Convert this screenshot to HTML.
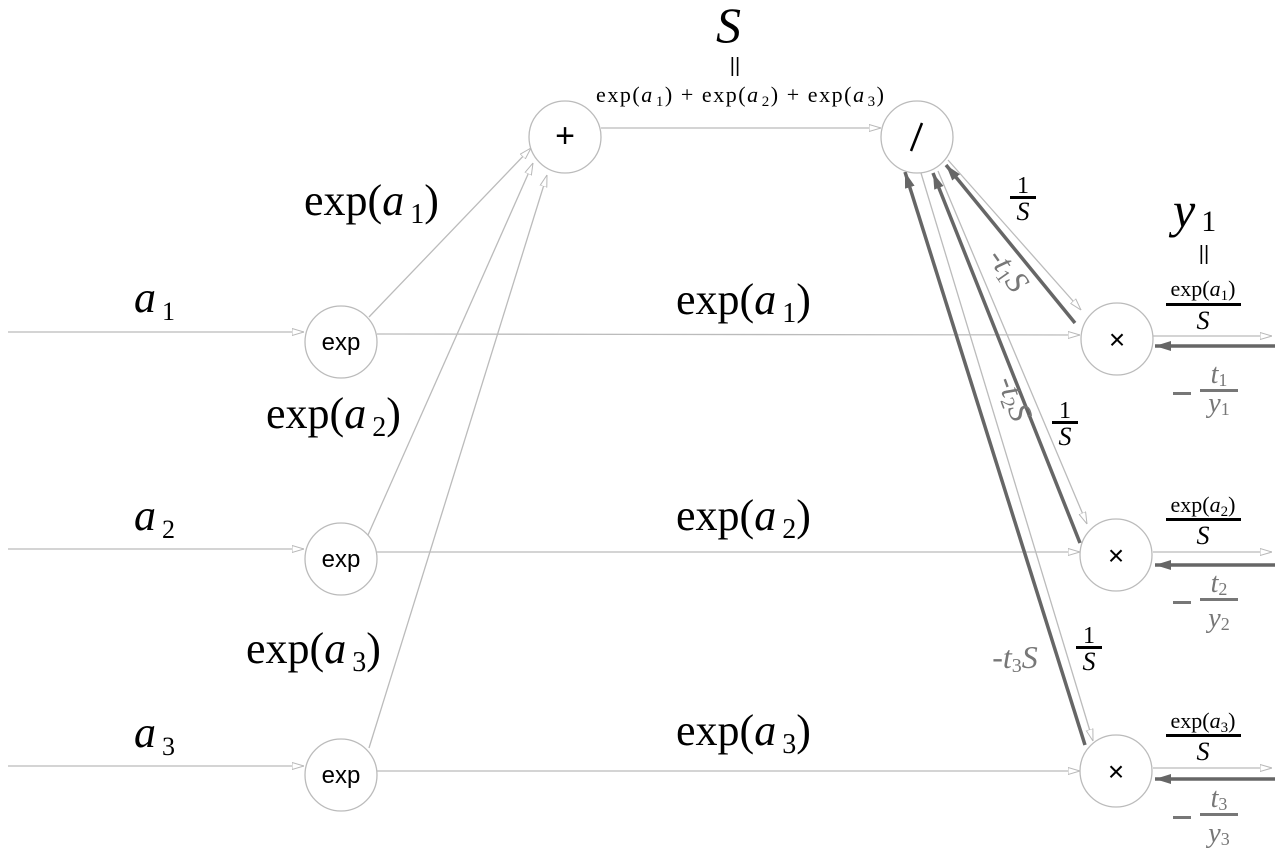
<!DOCTYPE html>
<html><head><meta charset="utf-8"><style>
html,body{margin:0;padding:0;background:#fff}
svg{display:block}
.m{font-family:"Liberation Serif",serif;}
.i{font-style:italic}
</style></head><body>
<svg width="1288" height="864" viewBox="0 0 1288 864" xmlns="http://www.w3.org/2000/svg">
<defs>
<marker id="la" viewBox="0 0 12 8" refX="12" refY="4" markerWidth="12" markerHeight="8" markerUnits="userSpaceOnUse" orient="auto">
<path d="M0,0.5 L12,4 L0,7.5 Z" fill="#fff" stroke="#b8b8b8" stroke-width="1"/></marker>
<marker id="da" viewBox="0 0 16 10" refX="16" refY="5" markerWidth="16" markerHeight="10" markerUnits="userSpaceOnUse" orient="auto">
<path d="M0,0 L16,5 L0,10 Z" fill="#666"/></marker>
</defs>
<g stroke="#bbb" stroke-width="1.3" fill="none">
<line x1="8" y1="332" x2="304" y2="332" marker-end="url(#la)"/>
<line x1="8" y1="549" x2="304" y2="549" marker-end="url(#la)"/>
<line x1="8" y1="766" x2="304" y2="766" marker-end="url(#la)"/>
<line x1="369" y1="317" x2="531" y2="148" marker-end="url(#la)"/>
<line x1="368" y1="535" x2="533" y2="163" marker-end="url(#la)"/>
<line x1="369" y1="748" x2="547" y2="175" marker-end="url(#la)"/>
<line x1="377" y1="334" x2="1080" y2="335" marker-end="url(#la)"/>
<line x1="377" y1="552" x2="1080" y2="552" marker-end="url(#la)"/>
<line x1="377" y1="771" x2="1080" y2="771" marker-end="url(#la)"/>
<line x1="601" y1="128" x2="881" y2="128" marker-end="url(#la)"/>
<line x1="948" y1="160" x2="1081" y2="310" marker-end="url(#la)"/>
<line x1="938" y1="171" x2="1087" y2="524" marker-end="url(#la)"/>
<line x1="921" y1="173" x2="1093" y2="741" marker-end="url(#la)"/>
<line x1="1153" y1="336" x2="1272" y2="336" marker-end="url(#la)"/>
<line x1="1153" y1="552" x2="1272" y2="552" marker-end="url(#la)"/>
<line x1="1153" y1="768" x2="1272" y2="768" marker-end="url(#la)"/>
</g>
<g stroke="#666" stroke-width="3.5" fill="none">
<line x1="1075" y1="323" x2="946" y2="165" marker-end="url(#da)"/>
<line x1="1080" y1="543" x2="933" y2="173" marker-end="url(#da)"/>
<line x1="1085" y1="745" x2="905" y2="172" marker-end="url(#da)"/>
<line x1="1275" y1="346" x2="1155" y2="346" marker-end="url(#da)"/>
<line x1="1275" y1="565" x2="1155" y2="565" marker-end="url(#da)"/>
<line x1="1275" y1="779" x2="1155" y2="779" marker-end="url(#da)"/>
</g>
<g stroke="#bbb" stroke-width="1.3" fill="#fff">
<circle cx="341" cy="342" r="36"/><circle cx="341" cy="559" r="36"/><circle cx="341" cy="775" r="36"/>
<circle cx="565" cy="137" r="36"/><circle cx="917" cy="137" r="36"/>
<circle cx="1117" cy="339" r="36"/><circle cx="1116" cy="555" r="36"/><circle cx="1116" cy="771" r="36"/>
</g>
<g font-family="Liberation Sans,sans-serif" font-size="24" text-anchor="middle" fill="#000">
<text x="341" y="350">exp</text><text x="341" y="567">exp</text><text x="341" y="783">exp</text>
<text x="565" y="147" font-size="34">+</text>
<line x1="911" y1="151" x2="922" y2="123" stroke="#000" stroke-width="2.5"/>
<text x="1117" y="349" font-size="28">×</text><text x="1116" y="565" font-size="28">×</text><text x="1116" y="781" font-size="28">×</text>
</g>
<g class="m" font-size="44" fill="#000">
<text x="134" y="312" class="i">a<tspan font-size="26" font-style="normal" dx="6" dy="8">1</tspan></text>
<text x="134" y="530" class="i">a<tspan font-size="26" font-style="normal" dx="6" dy="8">2</tspan></text>
<text x="134" y="747" class="i">a<tspan font-size="26" font-style="normal" dx="6" dy="8">3</tspan></text>
<text x="304" y="215">exp(<tspan class="i">a</tspan><tspan font-size="28" dx="6" dy="8">1</tspan><tspan dy="-8">)</tspan></text>
<text x="266" y="428">exp(<tspan class="i">a</tspan><tspan font-size="28" dx="6" dy="8">2</tspan><tspan dy="-8">)</tspan></text>
<text x="246" y="663">exp(<tspan class="i">a</tspan><tspan font-size="28" dx="6" dy="8">3</tspan><tspan dy="-8">)</tspan></text>
<text x="676" y="314">exp(<tspan class="i">a</tspan><tspan font-size="28" dx="6" dy="8">1</tspan><tspan dy="-8">)</tspan></text>
<text x="676" y="530">exp(<tspan class="i">a</tspan><tspan font-size="28" dx="6" dy="8">2</tspan><tspan dy="-8">)</tspan></text>
<text x="676" y="745">exp(<tspan class="i">a</tspan><tspan font-size="28" dx="6" dy="8">3</tspan><tspan dy="-8">)</tspan></text>
<text x="716" y="42" class="i" font-size="50">S</text>
<text x="1173" y="227" class="i" font-size="50">y<tspan font-size="30" font-style="normal" dx="6" dy="4">1</tspan></text>
</g>
<g font-family="Liberation Sans,sans-serif" font-size="20" fill="#000" text-anchor="middle">
<text x="735" y="72">||</text><text x="1204" y="260">||</text>
</g>
<g class="m" font-size="22" fill="#000">
<text x="596" y="102" textLength="288" lengthAdjust="spacing">exp(<tspan class="i">a</tspan><tspan font-size="15" dx="2" dy="4">1</tspan><tspan dy="-4">) + exp(</tspan><tspan class="i">a</tspan><tspan font-size="15" dx="2" dy="4">2</tspan><tspan dy="-4">) + exp(</tspan><tspan class="i">a</tspan><tspan font-size="15" dx="2" dy="4">3</tspan><tspan dy="-4">)</tspan></text>
</g>
<g class="m" font-size="22" fill="#000" text-anchor="middle">
<text x="1203" y="296">exp(<tspan class="i">a</tspan><tspan font-size="15" dy="4">1</tspan><tspan dy="-4">)</tspan></text>
<rect x="1166" y="303" width="75" height="3"/>
<text x="1203" y="329" class="i" font-size="26">S</text>
<text x="1203" y="512">exp(<tspan class="i">a</tspan><tspan font-size="15" dy="4">2</tspan><tspan dy="-4">)</tspan></text>
<rect x="1166" y="518" width="75" height="3"/>
<text x="1203" y="544" class="i" font-size="26">S</text>
<text x="1203" y="728">exp(<tspan class="i">a</tspan><tspan font-size="15" dy="4">3</tspan><tspan dy="-4">)</tspan></text>
<rect x="1166" y="734" width="75" height="3"/>
<text x="1203" y="760" class="i" font-size="26">S</text>
<text x="1023" y="193" font-size="24">1</text><rect x="1010" y="196" width="26" height="3"/><text x="1023" y="220" class="i" font-size="26">S</text>
<text x="1065" y="418" font-size="24">1</text><rect x="1052" y="421" width="26" height="3"/><text x="1065" y="445" class="i" font-size="26">S</text>
<text x="1089" y="643" font-size="24">1</text><rect x="1076" y="646" width="26" height="3"/><text x="1089" y="670" class="i" font-size="26">S</text>
</g>
<g class="m" fill="#777" text-anchor="middle">
<g font-size="28">
<rect x="1173" y="392" width="18" height="3"/><rect x="1200" y="389" width="38" height="3"/>
<text x="1219" y="383" class="i">t<tspan font-size="18" font-style="normal" dy="3">1</tspan></text>
<text x="1219" y="412" class="i">y<tspan font-size="18" font-style="normal" dy="3">1</tspan></text>
<rect x="1173" y="601" width="18" height="3"/><rect x="1200" y="598" width="38" height="3"/>
<text x="1219" y="592" class="i">t<tspan font-size="18" font-style="normal" dy="3">2</tspan></text>
<text x="1219" y="627" class="i">y<tspan font-size="18" font-style="normal" dy="3">2</tspan></text>
<rect x="1173" y="816" width="18" height="3"/><rect x="1200" y="813" width="38" height="3"/>
<text x="1219" y="807" class="i">t<tspan font-size="18" font-style="normal" dy="3">3</tspan></text>
<text x="1219" y="842" class="i">y<tspan font-size="18" font-style="normal" dy="3">3</tspan></text>
</g>
<g font-size="32">
<text x="1015" y="668" class="i">-t<tspan font-size="20" font-style="normal" dy="4">3</tspan><tspan dy="-4">S</tspan></text>
<text transform="translate(1000,276) rotate(55)" class="i">-t<tspan font-size="20" font-style="normal" dy="4">1</tspan><tspan dy="-4">S</tspan></text>
<text transform="translate(1005,402) rotate(70)" class="i">-t<tspan font-size="20" font-style="normal" dy="4">2</tspan><tspan dy="-4">S</tspan></text>
</g>
</g>
</svg>
</body></html>
